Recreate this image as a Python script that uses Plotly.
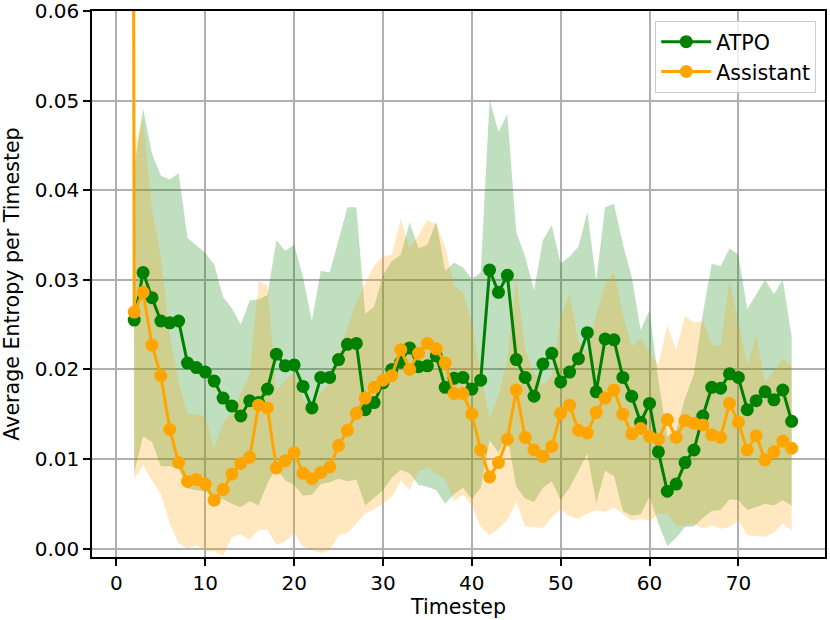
import plotly.graph_objects as go

# ATPO: timesteps 2..76
atpo_t = list(range(2, 77))
atpo_mean = [
    0.0255, 0.0308, 0.0280, 0.0254, 0.0252, 0.0254, 0.0207, 0.0202, 0.0197, 0.0187,
    0.0168, 0.0159, 0.0148, 0.0165, 0.0163, 0.0178, 0.0217, 0.0204, 0.0205, 0.0181,
    0.0157, 0.0191, 0.0191, 0.0211, 0.0228, 0.0229, 0.0155, 0.0163, 0.0185, 0.0200,
    0.0208, 0.0224, 0.0203, 0.0204, 0.0215, 0.0180, 0.0190, 0.0191, 0.0178, 0.0188,
    0.0311, 0.0286, 0.0305, 0.0211, 0.0191, 0.0170, 0.0206, 0.0218, 0.0186, 0.0197,
    0.0212, 0.0241, 0.0175, 0.0234, 0.0233, 0.0191, 0.0170, 0.0141, 0.0162, 0.0108,
    0.0064, 0.0072, 0.0096, 0.0110, 0.0148, 0.0180, 0.0179, 0.0195, 0.0191, 0.0155,
    0.0165, 0.0175, 0.0166, 0.0177, 0.0142,
]
atpo_std = [
    0.0170, 0.0183, 0.0161, 0.0162, 0.0160, 0.0165, 0.0140, 0.0137, 0.0133, 0.0130,
    0.0113, 0.0109, 0.0102, 0.0112, 0.0115, 0.0105, 0.0127, 0.0128, 0.0134, 0.0122,
    0.0097, 0.0119, 0.0117, 0.0133, 0.0153, 0.0152, 0.0107, 0.0107, 0.0120, 0.0121,
    0.0120, 0.0140, 0.0132, 0.0135, 0.0150, 0.0130, 0.0129, 0.0123, 0.0123, 0.0120,
    0.0190, 0.0179, 0.0180, 0.0142, 0.0135, 0.0118, 0.0138, 0.0143, 0.0132, 0.0129,
    0.0125, 0.0135, 0.0124, 0.0147, 0.0152, 0.0149, 0.0133, 0.0103, 0.0104, 0.0080,
    0.0061, 0.0060, 0.0072, 0.0085, 0.0114, 0.0138, 0.0136, 0.0140, 0.0137, 0.0112,
    0.0119, 0.0125, 0.0118, 0.0123, 0.0094,
]

# Assistant: timesteps 1..76 (timestep 1 is far above the plotted range)
asst_t = list(range(1, 77))
asst_mean = [
    0.6000,
    0.0264, 0.0286, 0.0227, 0.0193, 0.0133, 0.0096, 0.0075, 0.0077, 0.0072, 0.0054,
    0.0066, 0.0083, 0.0095, 0.0102, 0.0160, 0.0157, 0.0090, 0.0098, 0.0107, 0.0084,
    0.0078, 0.0085, 0.0091, 0.0115, 0.0132, 0.0151, 0.0168, 0.0180, 0.0188, 0.0193,
    0.0222, 0.0200, 0.0218, 0.0229, 0.0223, 0.0207, 0.0173, 0.0173, 0.0150, 0.0110,
    0.0080, 0.0096, 0.0122, 0.0177, 0.0124, 0.0110, 0.0103, 0.0114, 0.0151, 0.0160,
    0.0132, 0.0129, 0.0152, 0.0168, 0.0177, 0.0150, 0.0128, 0.0134, 0.0125, 0.0122,
    0.0144, 0.0124, 0.0143, 0.0140, 0.0138, 0.0127, 0.0124, 0.0162, 0.0141, 0.0110,
    0.0126, 0.0099, 0.0108, 0.0120, 0.0112,
]
asst_std = [
    0.3000,
    0.0186, 0.0193, 0.0151, 0.0132, 0.0105, 0.0090, 0.0075, 0.0073, 0.0075, 0.0057,
    0.0074, 0.0070, 0.0079, 0.0092, 0.0139, 0.0136, 0.0086, 0.0090, 0.0090, 0.0082,
    0.0080, 0.0090, 0.0093, 0.0100, 0.0115, 0.0123, 0.0129, 0.0136, 0.0138, 0.0135,
    0.0146, 0.0135, 0.0132, 0.0138, 0.0139, 0.0130, 0.0120, 0.0113, 0.0102, 0.0086,
    0.0065, 0.0074, 0.0090, 0.0125, 0.0099, 0.0086, 0.0080, 0.0079, 0.0107, 0.0124,
    0.0099, 0.0090, 0.0109, 0.0127, 0.0131, 0.0111, 0.0097, 0.0101, 0.0094, 0.0083,
    0.0105, 0.0098, 0.0117, 0.0112, 0.0116, 0.0101, 0.0102, 0.0138, 0.0110, 0.0095,
    0.0112, 0.0086, 0.0090, 0.0092, 0.0092,
]

series = [
    ("ATPO", atpo_t, atpo_mean, atpo_std, "#008000", "rgba(0,128,0,0.25)"),
    ("Assistant", asst_t, asst_mean, asst_std, "#FFA500", "rgba(255,165,0,0.25)"),
]

FONT = "DejaVu Sans, Arial, sans-serif"
TICK_FS = 20
LABEL_FS = 20.6
fig = go.Figure()

# shaded bands first
for name, t, m, s, col, fill in series:
    upper = [a + b for a, b in zip(m, s)]
    lower = [a - b for a, b in zip(m, s)]
    fig.add_trace(go.Scatter(x=t, y=upper, mode="lines", line=dict(width=0),
                             showlegend=False, hoverinfo="skip"))
    fig.add_trace(go.Scatter(x=t, y=lower, mode="lines", line=dict(width=0),
                             fill="tonexty", fillcolor=fill,
                             showlegend=False, hoverinfo="skip"))

# mean lines on top
for name, t, m, s, col, fill in series:
    fig.add_trace(go.Scatter(x=t, y=m, mode="lines+markers", name=name,
                             line=dict(color=col, width=3),
                             marker=dict(color=col, size=13)))

axis_common = dict(
    showgrid=True, gridcolor="#b0b0b0", gridwidth=1.5,
    showline=True, linecolor="black", linewidth=1.6, mirror=True,
    ticks="outside", ticklen=7, tickwidth=1.6, tickcolor="black",
    zeroline=False, automargin=False, ticklabeloverflow="allow",
    tickfont=dict(family=FONT, size=TICK_FS, color="black"),
)

fig.update_xaxes(range=[-2.75, 79.75], tick0=0, dtick=10,
                 title=dict(text="Timestep", font=dict(family=FONT, size=LABEL_FS, color="black"),
                            standoff=2),
                 **axis_common)
fig.update_yaxes(range=[-0.00094, 0.0600001], tick0=0, dtick=0.01, tickformat=".2f",
                 title=dict(text="Average Entropy per Timestep",
                            font=dict(family=FONT, size=LABEL_FS, color="black"), standoff=12),
                 **axis_common)

fig.update_layout(
    width=830, height=620,
    margin=dict(l=92, r=5, t=11, b=63),
    plot_bgcolor="white", paper_bgcolor="white",
    font=dict(family=FONT, size=LABEL_FS, color="black"),
    legend=dict(x=0.988, y=0.982, xanchor="right", yanchor="top", traceorder="normal",
                bgcolor="rgba(255,255,255,0.8)", bordercolor="#cccccc", borderwidth=1,
                itemwidth=50,
                font=dict(family=FONT, size=LABEL_FS, color="black")),
)

# drop the browser's default page margin so the figure sits at the top-left corner
fig.write_html("out.html", config={"displayModeBar": False},
               post_script="document.body.style.margin='0';")
